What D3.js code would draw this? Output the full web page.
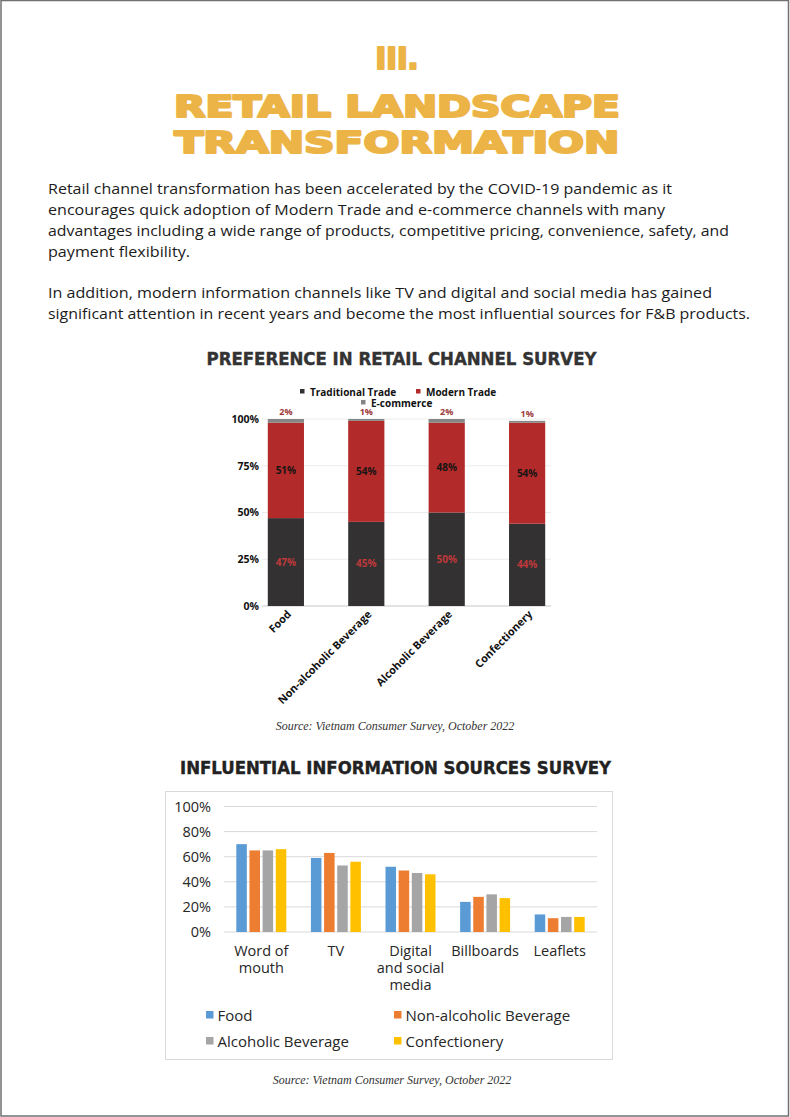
<!DOCTYPE html>
<html>
<head>
<meta charset="utf-8">
<script src="https://cdn.jsdelivr.net/npm/d3@7"></script>
<style>
  body { margin: 0; background: #fff; }
  svg { display: block; }
</style>
</head>
<body>
<div id="page"></div>
<script>
// chart 1 data: retail channel preference (%)
var retailCats = ["Food", "Non-alcoholic Beverage", "Alcoholic Beverage", "Confectionery"];
var traditional = [47, 45, 50, 44];
var modern = [51, 54, 48, 54];
var ecommerce = [2, 1, 2, 1];
var retailTicks = [0, 25, 50, 75, 100];
var retailSeries = ["Traditional Trade", "Modern Trade", "E-commerce"];

// chart 2 data: influential information sources (%)
var sourceCats = ["Word of mouth", "TV", "Digital and social media", "Billboards", "Leaflets"];
var sourceLines = [["Word of", "mouth"], ["TV"], ["Digital", "and social", "media"], ["Billboards"], ["Leaflets"]];
var sourceSeries = ["Food", "Non-alcoholic Beverage", "Alcoholic Beverage", "Confectionery"];
var foodVals = [70, 59, 52, 24, 14];
var nonAlcVals = [65, 63, 49, 28, 11];
var alcVals = [65, 53, 47, 30, 12];
var confVals = [66, 56, 46, 27, 12];
var sourceTicks = [0, 20, 40, 60, 80, 100];

var W = 790, H = 1117;
var svg = d3.select("#page").append("svg").attr("width", W).attr("height", H);

// page frame
svg.append("rect").attr("x", 1).attr("y", 0.5).attr("width", 787.5).attr("height", 1115.5)
  .attr("fill", "none").attr("stroke", "#707070").attr("stroke-width", 1.5);

// heading - stroke thickens the glyphs so they look as heavy as the original
var gold = "#ECB446";
[["III.", 69, 43], ["RETAIL LANDSCAPE", 117, 446], ["TRANSFORMATION", 152.5, 445]].forEach(function(t) {
  svg.append("text").attr("x", 397).attr("y", t[1])
    .attr("text-anchor", "middle")
    .attr("font-family", "DejaVu Sans").attr("font-weight", "bold").attr("font-size", 30)
    .attr("fill", gold).attr("stroke", gold).attr("stroke-width", 2.2).attr("stroke-linejoin", "round")
    .attr("textLength", t[2]).attr("lengthAdjust", "spacingAndGlyphs")
    .text(t[0]);
});

// intro paragraph
var para = [
  ["Retail channel transformation has been accelerated by the COVID-19 pandemic as it", 194, 624],
  ["encourages quick adoption of Modern Trade and e-commerce channels with many", 215, 617],
  ["advantages including a wide range of products, competitive pricing, convenience, safety, and", 236, 681],
  ["payment flexibility.", 257, 142],
  ["In addition, modern information channels like TV and digital and social media has gained", 298, 664],
  ["significant attention in recent years and become the most influential sources for F&B products.", 319, 702]
];
para.forEach(function(p) {
  svg.append("text").attr("x", 48).attr("y", p[1])
    .attr("font-family", "Open Sans").attr("font-size", 14.5).attr("fill", "#1b1b1b")
    .attr("textLength", p[2]).attr("lengthAdjust", "spacingAndGlyphs").text(p[0]);
});

// ---------- chart 1: stacked bars ----------
svg.append("text").attr("x", 401.5).attr("y", 365).attr("text-anchor", "middle")
  .attr("font-family", "DejaVu Sans").attr("font-weight", "bold").attr("font-size", 17)
  .attr("fill", "#333").attr("stroke", "#333").attr("stroke-width", 0.4)
  .attr("textLength", 390).attr("lengthAdjust", "spacingAndGlyphs")
  .text("PREFERENCE IN RETAIL CHANNEL SURVEY");

var c1Colors = ["#333132", "#B22A29", "#858585"];

// legend
var leg1 = [[300, 395.5], [416, 395.5], [361, 406.5]];
retailSeries.forEach(function(s, i) {
  svg.append("rect").attr("x", leg1[i][0]).attr("y", leg1[i][1] - 6.5).attr("width", 4.5).attr("height", 4.5)
    .attr("fill", c1Colors[i]);
  svg.append("text").attr("x", leg1[i][0] + 10).attr("y", leg1[i][1])
    .attr("font-family", "Open Sans").attr("font-weight", "bold").attr("font-size", 10)
    .attr("fill", "#111").text(s);
});

var x1 = d3.scaleBand().domain(retailCats).range([262, 551]).paddingInner(0.55).paddingOuter(0.072);
var y1 = d3.scaleLinear().domain([0, 100]).range([606, 419]);

var g1 = svg.append("g");
// gridlines
g1.selectAll(".grid").data(retailTicks).enter().append("line")
  .attr("x1", 262).attr("x2", 551)
  .attr("y1", function(d) { return y1(d); }).attr("y2", function(d) { return y1(d); })
  .attr("stroke", function(d) { return d === 0 ? "#c8c8c8" : "#ececec"; }).attr("stroke-width", 1);

var yAx1 = g1.append("g").attr("transform", "translate(262,0)")
  .call(d3.axisLeft(y1).tickValues(retailTicks).tickSize(0).tickPadding(3).tickFormat(function(d) { return d + "%"; }));
yAx1.select(".domain").remove();
yAx1.selectAll("text").attr("font-family", "Open Sans").attr("font-weight", "bold").attr("font-size", 10.5).attr("fill", "#111");

var rows1 = retailCats.map(function(c, i) {
  return { cat: c, "Traditional Trade": traditional[i], "Modern Trade": modern[i], "E-commerce": ecommerce[i] };
});
var stack1 = d3.stack().keys(retailSeries)(rows1);

stack1.forEach(function(layer, li) {
  g1.selectAll(".bar" + li).data(layer).enter().append("rect")
    .attr("x", function(d) { return x1(d.data.cat); })
    .attr("width", x1.bandwidth())
    .attr("y", function(d) { return y1(d[1]); })
    .attr("height", function(d) { return y1(d[0]) - y1(d[1]); })
    .attr("fill", c1Colors[li]);
});

// value labels
stack1.forEach(function(layer, li) {
  g1.selectAll(".lab" + li).data(layer).enter().append("text")
    .attr("x", function(d) { return x1(d.data.cat) + x1.bandwidth() / 2; })
    .attr("y", function(d) {
      if (li == 2) return y1(d[1]) - 4;
      return y1((d[0] + d[1]) / 2) + 3.5;
    })
    .attr("text-anchor", "middle")
    .attr("font-family", "Open Sans").attr("font-weight", "bold")
    .attr("font-size", li == 2 ? 9 : 10)
    .attr("fill", li == 0 ? "#C0393A" : (li == 1 ? "#151515" : "#A0393B"))
    .text(function(d) { return (d[1] - d[0]) + "%"; });
});

// x labels rotated
g1.selectAll(".xl").data(retailCats).enter().append("text")
  .attr("transform", function(d) {
    return "translate(" + (x1(d) + x1.bandwidth() / 2 + 6) + ",615) rotate(-45)";
  })
  .attr("text-anchor", "end")
  .attr("font-family", "Open Sans").attr("font-weight", "bold").attr("font-size", 10.8)
  .attr("fill", "#111").text(function(d) { return d; });

svg.append("text").attr("x", 395).attr("y", 730).attr("text-anchor", "middle")
  .attr("font-family", "Liberation Serif").attr("font-style", "italic").attr("font-size", 12)
  .attr("fill", "#333").text("Source: Vietnam Consumer Survey, October 2022");

// ---------- chart 2: grouped bars ----------
svg.append("text").attr("x", 395.5).attr("y", 773.5).attr("text-anchor", "middle")
  .attr("font-family", "DejaVu Sans").attr("font-weight", "bold").attr("font-size", 17)
  .attr("fill", "#222").attr("stroke", "#222").attr("stroke-width", 0.4)
  .attr("textLength", 431).attr("lengthAdjust", "spacingAndGlyphs")
  .text("INFLUENTIAL INFORMATION SOURCES SURVEY");

svg.append("rect").attr("x", 165.5).attr("y", 791.5).attr("width", 447).attr("height", 268)
  .attr("fill", "#fff").attr("stroke", "#d9d9d9").attr("stroke-width", 1);

var c2Colors = ["#5B9BD5", "#ED7D31", "#A5A5A5", "#FFC000"];
var seriesVals = [foodVals, nonAlcVals, alcVals, confVals];

var x2 = d3.scaleBand().domain(sourceCats).range([224, 597]).paddingInner(0.33).paddingOuter(0.165);
var xs = d3.scaleBand().domain(sourceSeries).range([0, x2.bandwidth()]).paddingInner(0.2);
var y2 = d3.scaleLinear().domain([0, 100]).range([932, 806.5]);

var g2 = svg.append("g");
g2.selectAll(".grid2").data(sourceTicks).enter().append("line")
  .attr("x1", 224).attr("x2", 597)
  .attr("y1", function(d) { return y2(d); }).attr("y2", function(d) { return y2(d); })
  .attr("stroke", "#d9d9d9").attr("stroke-width", 1);

var yAx2 = g2.append("g").attr("transform", "translate(224,0)")
  .call(d3.axisLeft(y2).tickValues(sourceTicks).tickSize(0).tickPadding(13).tickFormat(function(d) { return d + "%"; }));
yAx2.select(".domain").remove();
yAx2.selectAll("text").attr("font-family", "Open Sans").attr("font-size", 14.5).attr("fill", "#262626");

var rows2 = [];
sourceCats.forEach(function(c, ci) {
  sourceSeries.forEach(function(s, si) {
    rows2.push({ cat: c, series: s, si: si, value: seriesVals[si][ci] });
  });
});

g2.selectAll(".bar2").data(rows2).enter().append("rect")
  .attr("x", function(d) { return x2(d.cat) + xs(d.series); })
  .attr("width", xs.bandwidth())
  .attr("y", function(d) { return y2(d.value); })
  .attr("height", function(d) { return y2(0) - y2(d.value); })
  .attr("fill", function(d) { return c2Colors[d.si]; });

// category labels (multi-line)
sourceCats.forEach(function(c, ci) {
  var t = g2.append("text").attr("text-anchor", "middle")
    .attr("font-family", "Open Sans").attr("font-size", 14.5).attr("fill", "#262626");
  sourceLines[ci].forEach(function(line, li) {
    t.append("tspan").attr("x", x2(c) + x2.bandwidth() / 2).attr("y", 956 + li * 17).text(line);
  });
});

// legend
var leg2 = [[206, 1015], [394, 1015], [206, 1041], [394, 1041]];
sourceSeries.forEach(function(s, i) {
  svg.append("rect").attr("x", leg2[i][0]).attr("y", leg2[i][1] - 4).attr("width", 7.5).attr("height", 7.5)
    .attr("fill", c2Colors[i]);
  svg.append("text").attr("x", leg2[i][0] + 11.5).attr("y", leg2[i][1] + 5.5)
    .attr("font-family", "Open Sans").attr("font-size", 15).attr("fill", "#262626").text(s);
});

svg.append("text").attr("x", 392).attr("y", 1084).attr("text-anchor", "middle")
  .attr("font-family", "Liberation Serif").attr("font-style", "italic").attr("font-size", 12)
  .attr("fill", "#333").text("Source: Vietnam Consumer Survey, October 2022");
</script>
</body>
</html>
